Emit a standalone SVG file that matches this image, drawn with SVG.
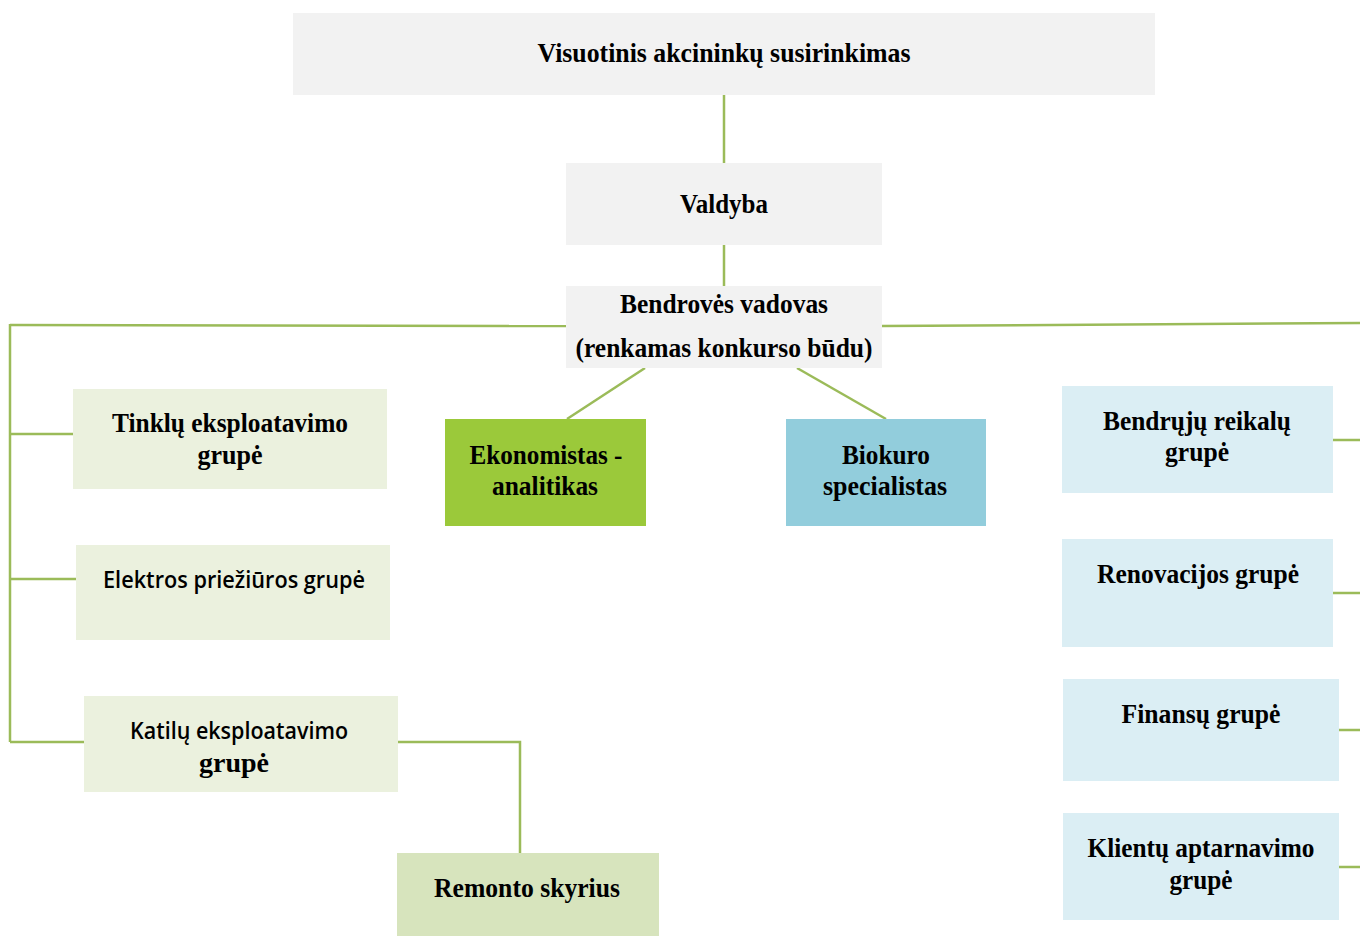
<svg xmlns="http://www.w3.org/2000/svg" width="1360" height="936" viewBox="0 0 1360 936">
<style>
.t{font-family:"Liberation Serif","Times New Roman",serif;font-weight:bold;font-size:28px;fill:#000;text-anchor:middle}
.s{font-family:"Open Sans","Noto Sans",sans-serif;font-weight:600;font-size:24px;fill:#000;text-anchor:middle}
.gray{fill:#f2f2f2}
.lg{fill:#ebf1de}
.mg{fill:#d7e4bd}
.lb{fill:#dbeef4}
.c line,.c polyline{stroke:#9bbb59;stroke-width:2.5;fill:none}
</style>
<rect width="1360" height="936" fill="#fff"/>
<g class="c" id="connectors">
<line x1="724" y1="95" x2="724" y2="163"/>
<line x1="724" y1="245" x2="724" y2="286"/>
<line x1="10" y1="325" x2="566" y2="326"/>
<line x1="882" y1="326" x2="1360" y2="323"/>
<line x1="10" y1="324" x2="10" y2="742"/>
<line x1="10" y1="434" x2="73" y2="434"/>
<line x1="10" y1="579" x2="76" y2="579"/>
<line x1="10" y1="742" x2="84" y2="742"/>
<polyline points="398,742 520,742 520,853"/>
<line x1="645" y1="368" x2="567" y2="419"/>
<line x1="797" y1="368" x2="886" y2="419"/>
<line x1="1333" y1="440" x2="1360" y2="440"/>
<line x1="1333" y1="593" x2="1360" y2="593"/>
<line x1="1339" y1="730" x2="1360" y2="730"/>
<line x1="1339" y1="867" x2="1360" y2="867"/>
</g>
<g id="n-visuotinis">
<rect class="gray" x="293" y="13" width="862" height="82"/>
<text class="t" x="724" y="62" textLength="373" lengthAdjust="spacingAndGlyphs">Visuotinis akcininkų susirinkimas</text>
</g>
<g id="n-valdyba">
<rect class="gray" x="566" y="163" width="316" height="82"/>
<text class="t" x="724" y="213" textLength="88" lengthAdjust="spacingAndGlyphs">Valdyba</text>
</g>
<g id="n-vadovas">
<rect class="gray" x="566" y="286" width="316" height="82"/>
<text class="t" x="724" y="313" textLength="208" lengthAdjust="spacingAndGlyphs">Bendrovės vadovas</text>
<text class="t" x="724" y="357" textLength="297" lengthAdjust="spacingAndGlyphs">(renkamas konkurso būdu)</text>
</g>
<g id="n-tinklu">
<rect class="lg" x="73" y="389" width="314" height="100"/>
<text class="t" x="230" y="432" textLength="236" lengthAdjust="spacingAndGlyphs">Tinklų eksploatavimo</text>
<text class="t" x="230" y="464" textLength="65" lengthAdjust="spacingAndGlyphs">grupė</text>
</g>
<g id="n-elektros">
<rect class="lg" x="76" y="545" width="314" height="95"/>
<text class="s" x="234" y="588" textLength="262" lengthAdjust="spacingAndGlyphs">Elektros priežiūros grupė</text>
</g>
<g id="n-katilu">
<rect class="lg" x="84" y="696" width="314" height="96"/>
<text class="s" x="239" y="739" textLength="218" lengthAdjust="spacingAndGlyphs">Katilų eksploatavimo</text>
<text class="t" x="234" y="772" textLength="70" lengthAdjust="spacingAndGlyphs">grupė</text>
</g>
<g id="n-remonto">
<rect class="mg" x="397" y="853" width="262" height="83"/>
<text class="t" x="527" y="897" textLength="186" lengthAdjust="spacingAndGlyphs">Remonto skyrius</text>
</g>
<g id="n-ekonomistas">
<rect fill="#9bc93a" x="445" y="419" width="201" height="107"/>
<text class="t" x="546" y="464" textLength="153" lengthAdjust="spacingAndGlyphs">Ekonomistas -</text>
<text class="t" x="545" y="495" textLength="106" lengthAdjust="spacingAndGlyphs">analitikas</text>
</g>
<g id="n-biokuro">
<rect fill="#92cddc" x="786" y="419" width="200" height="107"/>
<text class="t" x="886" y="464" textLength="88" lengthAdjust="spacingAndGlyphs">Biokuro</text>
<text class="t" x="885" y="495" textLength="124" lengthAdjust="spacingAndGlyphs">specialistas</text>
</g>
<g id="n-bendruju">
<rect class="lb" x="1062" y="386" width="271" height="107"/>
<text class="t" x="1197" y="430" textLength="188" lengthAdjust="spacingAndGlyphs">Bendrųjų reikalų</text>
<text class="t" x="1197" y="461" textLength="64" lengthAdjust="spacingAndGlyphs">grupė</text>
</g>
<g id="n-renovacijos">
<rect class="lb" x="1062" y="539" width="271" height="108"/>
<text class="t" x="1198" y="583" textLength="202" lengthAdjust="spacingAndGlyphs">Renovacijos grupė</text>
</g>
<g id="n-finansu">
<rect class="lb" x="1063" y="679" width="276" height="102"/>
<text class="t" x="1201" y="723" textLength="159" lengthAdjust="spacingAndGlyphs">Finansų grupė</text>
</g>
<g id="n-klientu">
<rect class="lb" x="1063" y="813" width="276" height="107"/>
<text class="t" x="1201" y="857" textLength="227" lengthAdjust="spacingAndGlyphs">Klientų aptarnavimo</text>
<text class="t" x="1201" y="889" textLength="63" lengthAdjust="spacingAndGlyphs">grupė</text>
</g>
</svg>
